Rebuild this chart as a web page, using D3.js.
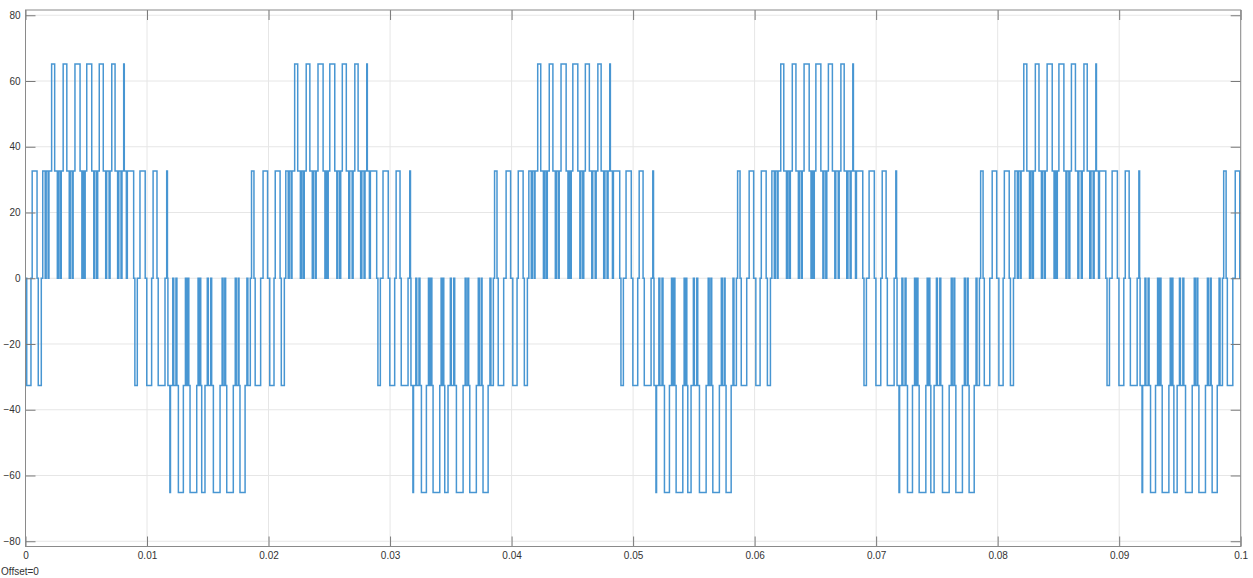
<!DOCTYPE html>
<html>
<head>
<meta charset="utf-8">
<script src="https://cdn.jsdelivr.net/npm/d3@7"></script>
<style>
  body { margin: 0; background: #fff; }
  text { font-family: "Liberation Sans", Arial, sans-serif; }
</style>
</head>
<body>
<div id="chart"></div>
<script>
// Multilevel inverter output voltage (scope trace), 50 Hz, 5 cycles

// switching steps of one cycle: [time in ms, level index]
// level index is multiplied by the cell voltage below
var cycleSteps = [
  [0.00, 0],
  [0.10, -1], [0.45, 0], [0.55, 1], [0.95, 0], [1.05, -1], [1.30, 0],
  [1.42, 1], [1.62, 0], [1.70, 1], [1.86, 0], [1.93, 1],
  [2.15, 2], [2.40, 1], [2.62, 0], [2.72, 1], [2.86, 0], [2.94, 1],
  [3.10, 2], [3.40, 1], [3.60, 0], [3.68, 1], [3.84, 0], [3.92, 1],
  [4.07, 2], [4.49, 1], [4.64, 0], [4.72, 1], [4.84, 0], [4.91, 1],
  [5.04, 2], [5.45, 1], [5.62, 0], [5.70, 1], [5.86, 0], [5.94, 1],
  [6.07, 2], [6.40, 1], [6.60, 0], [6.68, 1], [6.88, 0], [6.96, 1],
  [7.10, 2], [7.37, 1], [7.58, 0], [7.68, 1], [7.86, 0], [7.94, 1],
  [8.08, 2], [8.13, 1], [8.30, 0], [8.38, 1],
  [8.90, 0], [9.00, -1], [9.20, 0], [9.42, 1], [9.85, 0], [9.98, -1], [10.38, 0],
  [10.50, 1], [10.82, 0], [10.92, -1], [11.48, 0], [11.62, 1], [11.68, 0], [11.72, -1],
  [11.88, -2], [11.93, -1], [12.12, 0], [12.20, -1], [12.38, 0], [12.46, -1],
  [12.58, -2], [12.99, -1], [13.16, 0], [13.24, -1], [13.36, 0], [13.44, -1],
  [13.54, -2], [14.09, -1], [14.20, 0], [14.28, -1], [14.36, 0], [14.42, -1],
  [14.50, -2], [14.77, -1], [14.96, 0], [15.04, -1], [15.24, 0], [15.32, -1],
  [15.46, -2], [16.01, -1], [16.18, 0], [16.26, -1], [16.40, 0], [16.47, -1],
  [16.56, -2], [17.10, -1], [17.26, 0], [17.34, -1], [17.50, 0], [17.57, -1],
  [17.65, -2], [18.07, -1], [18.22, 0], [18.30, -1],
  [18.50, 0], [18.60, 1], [18.80, 0], [18.90, -1], [19.35, 0], [19.55, 1], [19.92, 0]
];

// start of each of the five identical cycles on the trace (ms)
var cycleStarts = [0, 20, 40, 60, 80];
var endTime = 100; // ms
var cellVoltage = 32.6;

var xTicks = [0, 0.01, 0.02, 0.03, 0.04, 0.05, 0.06, 0.07, 0.08, 0.09, 0.1];
var xTickLabels = ["0", "0.01", "0.02", "0.03", "0.04", "0.05", "0.06", "0.07", "0.08", "0.09", "0.1"];
var yTicks = [-80, -60, -40, -20, 0, 20, 40, 60, 80];

// Set the dimensions and margins
var margin = {top: 10, right: 12.3, bottom: 31.5, left: 25.5},
	width = 1253 - margin.left - margin.right,
	height = 578 - margin.top - margin.bottom;

var svgRoot = d3.select("#chart")
	.append("svg")
	.attr("width", 1253)
	.attr("height", 578);

var svg = svgRoot.append("g")
	.attr("transform", "translate(" + margin.left + "," + margin.top + ")");

var x = d3.scaleLinear().domain([0, 0.1]).range([0, width]);
var y = d3.scaleLinear().domain([-81.6, 81.6]).range([height, 0]);

// Grid
svg.append("g").selectAll("line.vg")
	.data(xTicks)
	.enter().append("line")
	.attr("x1", function(d) { return x(d); })
	.attr("x2", function(d) { return x(d); })
	.attr("y1", 0).attr("y2", height)
	.attr("stroke", "#e6e6e6").attr("stroke-width", 1);
svg.append("g").selectAll("line.hg")
	.data(yTicks)
	.enter().append("line")
	.attr("x1", 0).attr("x2", width)
	.attr("y1", function(d) { return y(d); })
	.attr("y2", function(d) { return y(d); })
	.attr("stroke", "#e6e6e6").attr("stroke-width", 1);

// Build the trace from the cycle steps
var points = [];
cycleStarts.forEach(function(start) {
	cycleSteps.forEach(function(s) {
		points.push({t: (start + s[0]) / 1000, v: s[1] * cellVoltage});
	});
});
points.push({t: endTime / 1000, v: points[points.length - 1].v});

svg.append("clipPath").attr("id", "plotclip")
	.append("rect").attr("width", width).attr("height", height);

svg.append("path")
	.datum(points)
	.attr("clip-path", "url(#plotclip)")
	.attr("fill", "none")
	.attr("stroke", "#4896d2")
	.attr("stroke-width", 1.5)
	.attr("d", d3.line()
		.curve(d3.curveStepAfter)
		.x(function(d) { return x(d.t); })
		.y(function(d) { return y(d.v); }));

// Axes with inward ticks on all four sides
function styleAxis(g) {
	g.select(".domain").remove();
	g.selectAll(".tick line").attr("stroke", "#7a7a7a");
	g.selectAll(".tick text").attr("fill", "#333").style("font-size", "10px");
}

svg.append("g")
	.attr("transform", "translate(0," + height + ")")
	.call(d3.axisBottom(x).tickValues(xTicks)
		.tickFormat(function(d, i) { return xTickLabels[i]; })
		.tickSizeInner(-10).tickSizeOuter(0).tickPadding(5))
	.call(styleAxis);
svg.append("g")
	.call(d3.axisTop(x).tickValues(xTicks).tickFormat("")
		.tickSizeInner(-10).tickSizeOuter(0))
	.call(styleAxis);
svg.append("g")
	.call(d3.axisLeft(y).tickValues(yTicks)
		.tickSizeInner(-10).tickSizeOuter(0).tickPadding(5))
	.call(styleAxis);
svg.append("g")
	.attr("transform", "translate(" + width + ",0)")
	.call(d3.axisRight(y).tickValues(yTicks).tickFormat("")
		.tickSizeInner(-10).tickSizeOuter(0))
	.call(styleAxis);

// Frame
svg.append("rect")
	.attr("width", width).attr("height", height)
	.attr("fill", "none").attr("stroke", "#8a8a8a").attr("stroke-width", 1);

// Offset note
svgRoot.append("text")
	.attr("x", 1).attr("y", 575)
	.attr("fill", "#333")
	.style("font-size", "10px")
	.text("Offset=0");
</script>
</body>
</html>
